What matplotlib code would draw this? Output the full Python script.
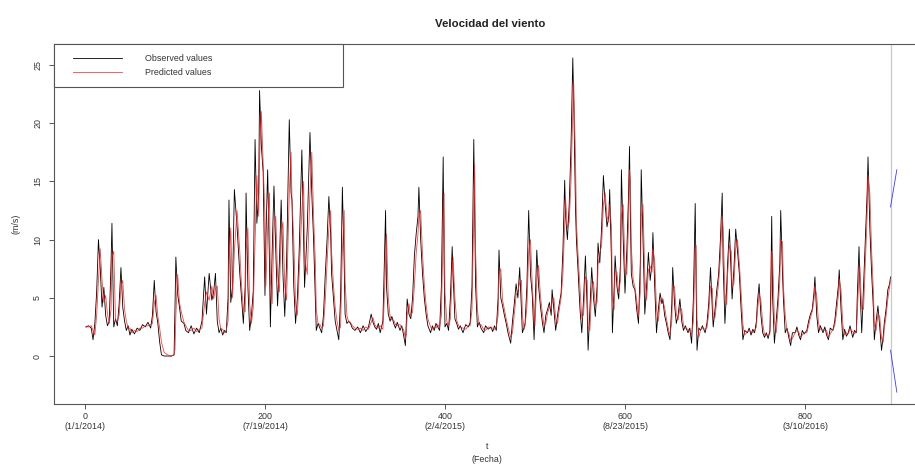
import matplotlib
matplotlib.use("Agg")
import matplotlib.pyplot as plt
from matplotlib.legend_handler import HandlerLine2D

plt.rcParams.update(
    {
        "font.family": ["Liberation Sans", "DejaVu Sans"],
        "font.size": 6.4,
        "axes.linewidth": 0.8,
        "axes.edgecolor": "#555555",
    }
)

TITLE = "Velocidad del viento"
X_LABEL = "t\n(Fecha)"
Y_LABEL = "(m/s)"

# day index (irregular sampling)
obs_t = [
    1, 4, 7, 9, 11, 13, 15, 17, 19, 21,
    23, 25, 27, 29, 30, 32, 34, 36, 38, 40,
    42, 44, 46, 48, 50, 52, 55, 58, 61, 64,
    67, 70, 73, 75, 77, 79, 81, 83, 85, 88,
    92, 96, 99, 100, 101, 103, 105, 107, 110, 112,
    115, 118, 121, 124, 127, 130, 133, 135, 138, 141,
    143, 145, 147, 149, 151, 153, 155, 157, 159, 160,
    162, 164, 166, 169, 172, 174, 176, 178, 179, 181,
    183, 185, 187, 189, 191, 193, 194, 196, 198, 200,
    201, 203, 205, 206, 208, 210, 212, 214, 216, 218,
    220, 222, 224, 227, 229, 230, 232, 234, 236, 238,
    241, 243, 244, 247, 250, 252, 254, 256, 257, 259,
    261, 263, 265, 267, 269, 271, 273, 274, 276, 278,
    280, 282, 284, 286, 288, 289, 291, 293, 295, 297,
    300, 303, 306, 309, 312, 315, 318, 320, 322, 324,
    326, 328, 331, 332, 334, 335, 337, 339, 341, 343,
    345, 347, 350, 352, 354, 356, 357, 358, 360, 362,
    364, 366, 368, 370, 371, 373, 375, 377, 379, 381,
    384, 386, 388, 390, 392, 394, 396, 398, 399, 400,
    402, 404, 406, 408, 409, 411, 413, 415, 417, 420,
    423, 426, 428, 430, 432, 433, 434, 436, 438, 440,
    443, 445, 448, 451, 453, 455, 457, 459, 460, 462,
    464, 466, 468, 470, 473, 475, 477, 479, 481, 483,
    485, 486, 488, 489, 491, 493, 495, 497, 499, 500,
    502, 504, 506, 508, 510, 512, 514, 516, 518, 519,
    521, 523, 525, 527, 529, 531, 533, 534, 536, 538,
    540, 542, 543, 545, 546, 548, 550, 552, 554, 556,
    558, 559, 561, 563, 565, 567, 569, 570, 572, 574,
    576, 578, 580, 582, 583, 585, 586, 588, 589, 591,
    593, 595, 596, 598, 600, 602, 604, 605, 606, 607,
    609, 611, 613, 615, 617, 618, 620, 622, 624, 626,
    628, 630, 631, 633, 635, 637, 639, 641, 642, 644,
    646, 648, 650, 652, 653, 655, 657, 659, 661, 663,
    665, 667, 670, 672, 674, 676, 678, 679, 680, 682,
    684, 686, 689, 691, 693, 695, 697, 698, 700, 702,
    704, 706, 708, 709, 711, 713, 714, 716, 718, 719,
    721, 723, 725, 727, 729, 731, 733, 736, 738, 740,
    742, 744, 746, 747, 749, 751, 753, 755, 757, 759,
    761, 762, 763, 764, 766, 768, 770, 772, 773, 775,
    776, 778, 780, 782, 784, 786, 789, 791, 793, 795,
    797, 799, 802, 804, 806, 808, 810, 811, 813, 815,
    817, 820, 822, 824, 826, 828, 831, 833, 835, 837,
    838, 840, 842, 844, 846, 848, 850, 853, 855, 857,
    858, 860, 861, 863, 865, 867, 869, 870, 872, 874,
    876, 877, 879, 881, 883, 885, 887, 888, 890, 892,
    894, 895,
]

observed = [
    2.5, 2.6, 2.4, 1.4, 2.8, 5.5, 10.0, 7.5, 4.2, 5.9,
    3.5, 2.6, 3.0, 8.0, 11.4, 2.5, 3.2, 2.6, 4.5, 7.6,
    4.2, 3.0, 2.2, 2.6, 1.8, 2.3, 1.9, 2.4, 2.2, 2.7,
    2.5, 2.9, 2.4, 3.5, 6.5, 3.8, 2.8, 1.2, 0.1, 0.0,
    0.0, 0.0, 0.1, 4.0, 8.5, 5.3, 4.2, 3.0, 2.8, 2.2,
    2.0, 2.6, 1.9, 2.4, 2.0, 3.0, 6.8, 3.6, 7.1, 4.8,
    5.5, 7.1, 3.0, 2.0, 2.4, 1.8, 2.2, 2.0, 5.0, 13.4,
    4.6, 6.0, 14.3, 11.1, 7.1, 5.0, 2.8, 6.0, 14.0, 6.0,
    2.2, 3.5, 5.6, 18.6, 11.4, 14.0, 22.8, 18.0, 15.8, 5.2,
    10.0, 16.0, 8.0, 2.5, 9.0, 14.6, 9.0, 4.3, 8.0, 13.4,
    7.0, 3.4, 8.0, 20.3, 14.0, 13.4, 6.0, 2.8, 5.0, 9.0,
    17.7, 10.0, 5.9, 11.0, 19.2, 14.0, 10.0, 5.0, 2.2, 2.8,
    2.4, 2.0, 3.5, 7.0, 10.0, 13.7, 10.5, 7.1, 5.0, 3.0,
    2.2, 1.4, 5.0, 14.5, 8.0, 3.6, 2.8, 3.0, 2.8, 2.4,
    2.2, 2.5, 2.0, 2.6, 2.1, 2.5, 3.6, 2.9, 2.5, 2.3,
    2.8, 2.0, 3.0, 6.0, 12.5, 6.0, 3.6, 3.0, 3.4, 2.8,
    2.4, 2.9, 2.2, 2.6, 1.8, 0.9, 3.0, 4.9, 3.6, 3.2,
    5.0, 8.6, 10.5, 12.0, 14.5, 10.0, 7.1, 5.0, 3.6, 2.6,
    2.0, 2.6, 2.2, 2.8, 2.5, 2.2, 6.0, 17.1, 8.0, 2.5,
    2.8, 2.2, 5.0, 9.4, 7.0, 3.2, 2.8, 2.3, 2.6, 2.0,
    2.7, 2.5, 2.9, 6.0, 18.6, 12.0, 6.0, 2.5, 2.9, 2.4,
    2.0, 2.6, 2.3, 2.5, 2.1, 2.6, 2.2, 5.0, 9.1, 5.0,
    4.3, 3.5, 2.8, 2.0, 1.1, 3.0, 4.5, 6.2, 5.0, 7.6,
    4.0, 2.0, 2.5, 2.8, 6.0, 12.5, 7.0, 5.2, 1.4, 4.0,
    9.1, 6.0, 4.3, 3.0, 2.0, 3.5, 4.0, 4.6, 3.5, 5.7,
    4.0, 2.2, 3.5, 4.5, 5.4, 9.0, 15.1, 12.0, 10.0, 13.0,
    18.0, 25.6, 22.0, 12.7, 10.0, 7.1, 4.0, 2.0, 5.0, 8.6,
    4.0, 0.5, 4.0, 7.6, 5.0, 3.4, 6.0, 9.7, 8.0, 11.0,
    15.5, 13.0, 11.1, 12.0, 14.3, 8.0, 2.0, 6.0, 8.6, 6.0,
    4.9, 8.0, 16.0, 10.0, 5.4, 9.0, 14.0, 18.0, 12.0, 7.1,
    6.0, 5.7, 4.0, 2.8, 8.0, 16.0, 10.0, 3.6, 6.0, 8.9,
    6.5, 8.0, 10.6, 6.0, 2.0, 4.0, 5.4, 4.5, 4.9, 3.5,
    2.8, 2.0, 1.4, 4.5, 7.6, 4.5, 2.8, 3.5, 4.9, 3.0,
    2.2, 2.6, 2.0, 2.4, 1.1, 5.0, 13.1, 6.0, 0.5, 2.4,
    2.2, 2.6, 2.0, 2.8, 4.5, 7.6, 4.0, 2.5, 4.0, 5.7,
    7.0, 10.0, 14.0, 8.0, 2.8, 6.0, 8.0, 10.9, 7.0, 4.9,
    7.5, 10.9, 9.0, 7.1, 4.0, 1.4, 2.2, 2.0, 2.4, 1.8,
    2.3, 2.0, 3.0, 4.5, 6.2, 3.5, 2.0, 1.6, 2.0, 1.5,
    2.2, 6.0, 12.0, 5.0, 1.1, 3.0, 5.0, 8.0, 12.5, 7.0,
    4.9, 2.0, 2.4, 1.6, 0.9, 2.0, 2.0, 2.5, 1.8, 1.4,
    2.2, 1.9, 2.2, 3.0, 3.6, 4.0, 5.5, 6.8, 3.5, 2.0,
    2.6, 2.0, 2.5, 1.8, 1.4, 2.4, 2.2, 3.0, 4.5, 6.0,
    7.4, 4.0, 1.4, 2.3, 1.7, 2.0, 2.6, 1.6, 2.2, 2.0,
    5.0, 9.4, 6.0, 2.0, 6.0, 10.0, 14.0, 17.1, 11.0, 7.1,
    4.0, 1.4, 3.0, 4.3, 2.5, 0.5, 1.8, 2.8, 4.0, 5.7,
    6.2, 6.8,
]

predicted = [
    2.5, 2.5, 2.6, 2.2, 1.8, 3.5, 6.5, 9.2, 6.5, 4.6,
    5.2, 3.6, 2.8, 4.0, 8.5, 9.0, 3.0, 3.0, 3.5, 6.0,
    6.5, 4.0, 3.0, 2.4, 2.4, 2.0, 2.2, 2.1, 2.4, 2.4,
    2.6, 2.6, 2.7, 2.8, 4.5, 5.2, 3.4, 2.4, 1.2, 0.3,
    0.1, 0.0, 0.1, 0.5, 3.5, 7.0, 4.6, 3.8, 2.9, 2.6,
    2.2, 2.2, 2.4, 2.1, 2.3, 2.4, 4.5, 5.5, 4.8, 6.0,
    4.9, 5.8, 6.0, 3.2, 2.3, 2.3, 2.0, 2.2, 3.0, 8.0,
    11.0, 5.0, 9.0, 12.5, 9.0, 6.0, 4.0, 3.8, 9.0, 11.0,
    4.5, 2.8, 4.2, 10.0, 15.5, 12.0, 17.0, 21.0, 16.5, 12.0,
    6.0, 11.0, 14.0, 6.5, 4.5, 11.0, 12.0, 7.0, 5.5, 10.5,
    11.5, 6.0, 4.8, 14.0, 17.5, 13.5, 10.0, 4.5, 3.5, 7.0,
    12.5, 15.0, 8.5, 7.0, 14.0, 17.5, 12.0, 8.0, 4.0, 2.8,
    2.7, 2.4, 2.6, 4.8, 8.0, 11.0, 12.5, 9.0, 6.2, 4.2,
    3.0, 2.2, 2.5, 9.0, 12.5, 6.5, 3.5, 2.9, 2.9, 2.6,
    2.4, 2.3, 2.4, 2.2, 2.5, 2.3, 2.9, 3.3, 2.7, 2.5,
    2.4, 2.6, 2.3, 3.8, 8.0, 10.5, 5.0, 3.4, 3.1, 3.1,
    2.7, 2.6, 2.7, 2.4, 2.3, 1.5, 1.8, 3.5, 4.5, 3.4,
    3.8, 6.0, 8.8, 10.5, 12.0, 12.5, 8.8, 6.2, 4.4, 3.2,
    2.5, 2.3, 2.5, 2.4, 2.7, 2.4, 3.5, 11.0, 14.0, 5.5,
    3.0, 2.6, 3.2, 7.0, 8.5, 5.0, 3.1, 2.6, 2.5, 2.4,
    2.3, 2.6, 2.6, 4.0, 12.0, 16.5, 9.0, 4.0, 2.7, 2.7,
    2.3, 2.2, 2.5, 2.4, 2.4, 2.3, 2.5, 3.5, 7.0, 7.5,
    4.8, 4.0, 3.2, 2.5, 1.6, 2.0, 3.6, 5.2, 5.6, 6.3,
    6.5, 3.5, 2.3, 2.6, 4.2, 9.0, 10.0, 6.0, 3.5, 2.6,
    6.5, 7.8, 5.2, 3.8, 2.6, 2.8, 3.7, 4.2, 4.0, 4.6,
    5.0, 3.2, 2.8, 4.0, 5.0, 7.0, 11.5, 13.5, 11.0, 11.5,
    15.0, 21.0, 23.5, 17.0, 11.5, 8.5, 5.8, 3.2, 3.6, 6.8,
    6.5, 2.5, 2.2, 5.8, 6.4, 4.3, 4.6, 7.8, 8.8, 9.5,
    13.0, 14.0, 12.0, 11.5, 13.0, 11.0, 5.0, 4.0, 7.3, 7.2,
    5.5, 6.5, 12.0, 13.0, 7.5, 7.0, 11.5, 16.0, 15.0, 9.5,
    6.6, 5.9, 4.8, 3.4, 5.5, 12.0, 13.0, 6.8, 4.8, 7.4,
    7.7, 7.2, 9.2, 8.2, 4.0, 3.0, 4.7, 5.0, 4.7, 4.2,
    3.2, 2.4, 1.8, 3.0, 6.0, 6.0, 3.6, 3.1, 4.2, 4.0,
    2.6, 2.4, 2.3, 2.2, 1.8, 3.0, 9.0, 9.5, 3.2, 1.6,
    2.3, 2.4, 2.3, 2.4, 3.6, 6.0, 5.8, 3.3, 3.3, 4.8,
    6.3, 8.5, 12.0, 11.0, 5.4, 4.4, 7.0, 9.5, 9.0, 6.0,
    6.2, 9.2, 10.0, 8.0, 5.5, 2.7, 1.8, 2.1, 2.2, 2.1,
    2.0, 2.2, 2.5, 3.7, 5.3, 4.8, 2.8, 1.8, 1.8, 1.8,
    1.9, 4.0, 9.0, 8.5, 3.0, 2.0, 4.0, 6.5, 10.0, 9.8,
    6.0, 3.5, 2.2, 2.0, 1.3, 1.5, 2.0, 2.2, 2.1, 1.6,
    1.8, 2.0, 2.0, 2.6, 3.3, 3.8, 4.8, 6.0, 5.2, 2.8,
    2.3, 2.3, 2.2, 2.2, 1.6, 1.9, 2.3, 2.6, 3.7, 5.2,
    6.6, 5.7, 2.7, 1.8, 2.0, 1.9, 2.3, 2.1, 1.9, 2.1,
    3.5, 7.2, 7.7, 4.0, 4.0, 8.0, 12.0, 15.5, 14.0, 9.0,
    5.5, 2.7, 2.2, 3.6, 3.4, 1.5, 1.2, 2.3, 3.4, 4.9,
    6.0, 6.5,
]

# forecast interval after the last observation
last_obs = 895
fc_t = [895, 902]
fc_upper = [12.8, 16.0]
fc_lower = [0.5, -3.1]

x_ticks = [0, 200, 400, 600, 800]
x_tick_dates = ["(1/1/2014)", "(7/19/2014)", "(2/4/2015)", "(8/23/2015)", "(3/10/2016)"]
y_ticks = [0, 5, 10, 15, 20, 25]

fig = plt.figure(figsize=(9.15, 4.70), dpi=100)
# the plot box runs past the right edge of the picture, as in the original
ax = fig.add_axes([0.0590, 0.1404, 0.9902, 0.7660])

ax.plot(obs_t, observed, color="black", linewidth=0.6, label="Observed values")
ax.plot(obs_t, predicted, color="#ff2020", linewidth=0.6, alpha=0.85, label="Predicted values")
ax.axvline(last_obs, color="#c8c8c8", linewidth=0.9)
ax.plot(fc_t, fc_upper, color="#3a3aff", linewidth=0.6)
ax.plot(fc_t, fc_lower, color="#3a3aff", linewidth=0.6)

ax.set_xlim(-34.4, 972.2)
ax.set_ylim(-4.12, 26.8)

ax.set_xticks(x_ticks)
ax.set_xticklabels([f"{t}\n{d}" for t, d in zip(x_ticks, x_tick_dates)], color="#333333")
ax.set_yticks(y_ticks)
ax.set_yticklabels([str(v) for v in y_ticks], rotation=90, va="center", color="#333333")
ax.tick_params(axis="both", length=3.6, width=0.7, color="#555555", labelsize=6.4)
ax.tick_params(axis="x", pad=1.8)
ax.tick_params(axis="y", pad=5)

# title and x label sit over the visible part of the box (centre ~ x=490 px)
ax.set_title(TITLE, fontsize=8.2, fontweight="bold", pad=12, color="#222222")
ax.title.set_x(0.481)
ax.set_xlabel(X_LABEL, fontsize=6.4, labelpad=8, color="#333333", linespacing=1.5)
ax.xaxis.label.set_x(0.478)
ax.set_ylabel(Y_LABEL, fontsize=6.4, labelpad=9, color="#333333")

leg = ax.legend(
    loc="upper left",
    bbox_to_anchor=(0.0, 1.0, 0.319, 0.0),
    mode="expand",
    borderaxespad=0.0,
    borderpad=1.15,
    handlelength=6.5,
    handletextpad=2.6,
    labelspacing=0.5,
    fancybox=False,
    framealpha=1.0,
    fontsize=6.4,
    handler_map={plt.Line2D: HandlerLine2D(xpad=1.0)},
)
leg.get_frame().set_edgecolor("#555555")
leg.get_frame().set_linewidth(0.8)
for text in leg.get_texts():
    text.set_color("#333333")

fig.savefig("out.png", dpi=100)
